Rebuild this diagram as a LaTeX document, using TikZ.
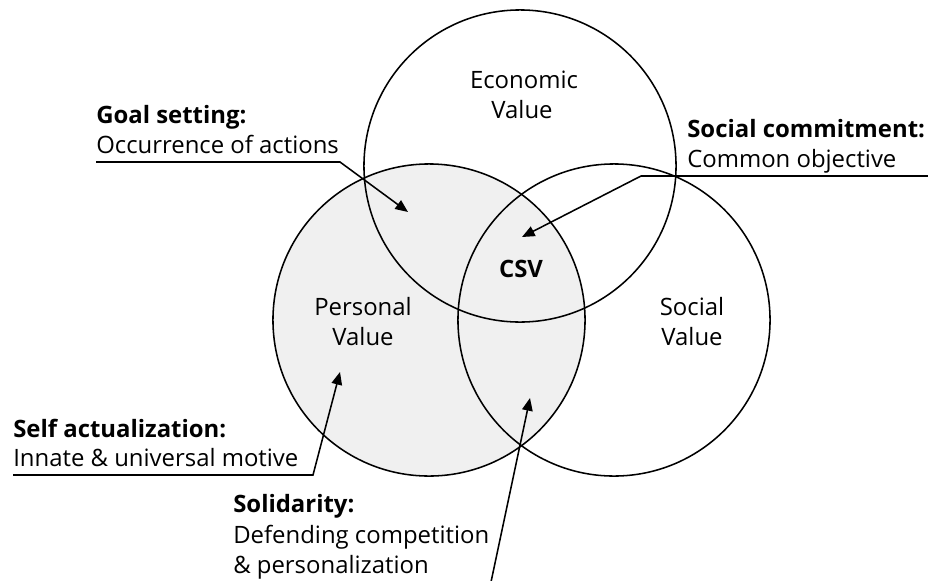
\documentclass[tikz,border=0pt]{standalone}
\usepackage{fontspec}
\setmainfont{Open Sans}
\usetikzlibrary{arrows.meta}
\definecolor{lightfill}{RGB}{240,240,240}

\begin{document}
\begin{tikzpicture}[x=0.025cm,y=-0.025cm,
	value/.style={shape=circle,draw=black,line width=1.1pt,minimum size=7.8cm,inner sep=0pt},
	label/.style={anchor=base,inner sep=0pt,font=\fontsize{17}{20}\selectfont},
	note/.style={anchor=base west,inner sep=0pt,font=\fontsize{17}{20}\selectfont},
	pointer/.style={line width=1.1pt,-{Triangle[length=9pt,width=7.5pt]}}]
	\useasboundingbox (0,0) rectangle (928,580);

	\node[value,fill=lightfill] (personal) at (429,320) {};
	\node[value] (economic) at (520,166) {};
	\node[value] (social)   at (614,320) {};

	\node[label] (eco1) at (524,88)  {Economic};
	\node[label] (eco2) at (522,118) {Value};
	\node[label] (per1) at (363,315) {Personal};
	\node[label] (per2) at (363,345) {Value};
	\node[label] (soc1) at (692,315) {Social};
	\node[label] (soc2) at (692,345) {Value};
	\node[label] (csv)  at (521,277) {\textbf{CSV}};

	\node[note] (goal)     at (96,123)  {\textbf{Goal setting:}};
	\node[note] (goal-txt) at (96,153)  {Occurrence of actions};
	\node[note] (comm)     at (687,137) {\textbf{Social commitment:}};
	\node[note] (comm-txt) at (687,167) {Common objective};
	\node[note] (self)     at (13,437)  {\textbf{Self actualization:}};
	\node[note] (self-txt) at (13,466)  {Innate \& universal motive};
	\node[note] (soli)     at (233,512) {\textbf{Solidarity:}};
	\node[note] (soli-txt) at (233,543) {Defending competition};
	\node[note] (soli-tx2) at (233,573) {\& personalization};

	\coordinate (goal-end) at (340,162);
	\coordinate (goal-tip) at (408,212);
	\coordinate (comm-end) at (641,176);
	\coordinate (comm-tip) at (522,237);
	\coordinate (self-end) at (313,475);
	\coordinate (self-tip) at (340,372);
	\coordinate (soli-end) at (491,582);
	\coordinate (soli-tip) at (530,398);

	\draw[pointer] (goal-end -| goal.west) -- (goal-end) -- (goal-tip);
	\draw[pointer] (comm-end -| 930,0) -- (comm-end) -- (comm-tip);
	\draw[pointer] (self-end -| self.west) -- (self-end) -- (self-tip);
	\draw[pointer] (soli-end) -- (soli-tip);

\end{tikzpicture}
\end{document}
